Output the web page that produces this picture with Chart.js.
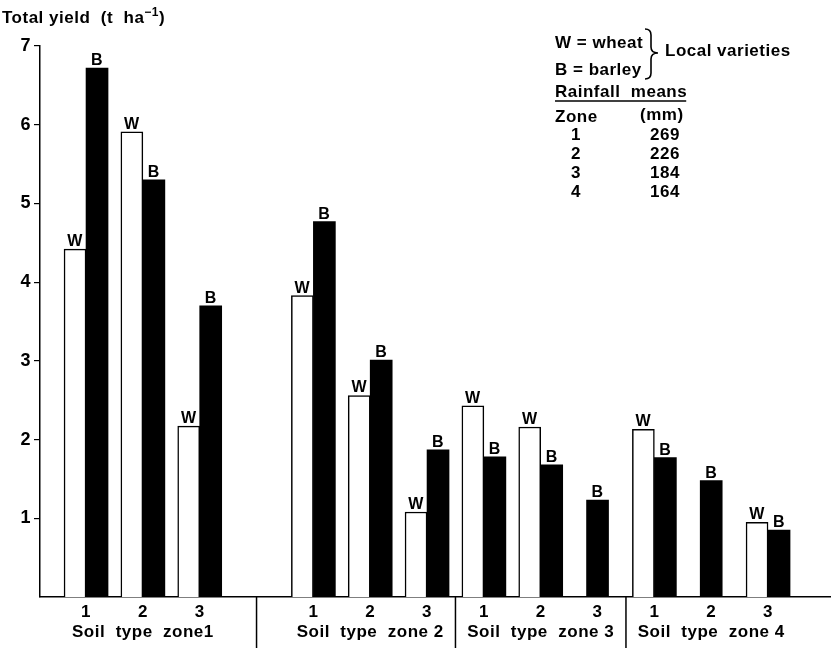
<!DOCTYPE html>
<html>
<head>
<meta charset="utf-8">
<title>Total yield of local wheat and barley</title>
<script src="https://cdn.jsdelivr.net/npm/chart.js@4.4.0/dist/chart.umd.min.js"></script>
<style>
  html, body { margin: 0; padding: 0; background: #ffffff; }
  #wrap { position: relative; width: 831px; height: 648px; }
</style>
</head>
<body>
<div id="wrap"><canvas id="yieldChart" width="831" height="648"></canvas></div>
<script>
// Rainfall zone of each bar pair, grouped by soil type zone
const rainLabels = ['1', '2', '3', '1', '2', '3', '1', '2', '3', '1', '2', '3'];
const soilZoneLabels = ['Soil  type  zone1', 'Soil  type  zone 2', 'Soil  type  zone 3', 'Soil  type  zone 4'];

// Total yield (t/ha); null = no bar drawn
const wheatYield  = [4.42, 5.91, 2.17, 3.83, 2.56, 1.08, 2.43, 2.16, null, 2.13, null, 0.95];
const barleyYield = [6.72, 5.30, 3.70, 4.77, 3.01, 1.87, 1.78, 1.68, 1.23, 1.77, 1.48, 0.85];

const yTicks = [1, 2, 3, 4, 5, 6, 7];

// Rainfall means table
const rainfallZones = ['1', '2', '3', '4'];
const rainfallMeans = ['269', '226', '184', '164'];

const FONT = '"Liberation Sans", Arial, Helvetica, sans-serif';
Chart.defaults.font.family = FONT;
Chart.defaults.color = '#000';

// an empty slot is left between soil type zone 1 and 2
const slotOf = i => i + (i >= 3 ? 1 : 0);
const toPoints = values => values.map((v, i) => ({ x: slotOf(i), y: v }));
const tickSlots = rainLabels.map((_, i) => slotOf(i));

/**
 * Letter (W / B) above every bar
 */
const barLetters = {
    id: 'barLetters',
    afterDatasetsDraw(chart) {
        const ctx = chart.ctx;
        ctx.save();
        ctx.font = 'bold 16px ' + FONT;
        ctx.fillStyle = '#000';
        ctx.textAlign = 'center';
        ctx.textBaseline = 'alphabetic';
        chart.data.datasets.forEach((ds, d) => {
            const meta = chart.getDatasetMeta(d);
            meta.data.forEach((bar, i) => {
                if (ds.data[i].y === null || isNaN(bar.y)) return;
                ctx.fillText(ds.label, bar.x, bar.y - 3);
            });
        });
        ctx.restore();
    }
};

/**
 * Vertical dividers between soil type zones, below the x axis
 */
const zoneDividers = {
    id: 'zoneDividers',
    afterDraw(chart) {
        const ctx = chart.ctx;
        const x = chart.scales.x;
        const bottom = chart.chartArea.bottom;
        ctx.save();
        ctx.strokeStyle = '#000';
        ctx.lineWidth = 1.5;
        [2, 5, 8].forEach(i => {
            const px = x.getPixelForValue((slotOf(i) + slotOf(i + 1)) / 2);
            ctx.beginPath();
            ctx.moveTo(px, bottom);
            ctx.lineTo(px, chart.height);
            ctx.stroke();
        });
        ctx.restore();
    }
};

/**
 * Axis title, key and rainfall table
 */
const notes = {
    id: 'notes',
    beforeDraw(chart) {
        // wide letter spacing as in the printed figure
        if ('letterSpacing' in chart.ctx) chart.ctx.letterSpacing = '0.5px';
    },
    afterDraw(chart) {
        const ctx = chart.ctx;
        ctx.save();
        ctx.fillStyle = '#000';
        ctx.strokeStyle = '#000';
        ctx.textBaseline = 'middle';
        ctx.textAlign = 'left';

        // y axis title with superscript
        ctx.font = 'bold 17px ' + FONT;
        let tx = 2;
        const main = 'Total yield  (t  ha';
        ctx.fillText(main, tx, 18);
        tx += ctx.measureText(main).width;
        ctx.font = 'bold 12px ' + FONT;
        ctx.fillText('\u22121', tx, 13);
        tx += ctx.measureText('\u22121').width;
        ctx.font = 'bold 17px ' + FONT;
        ctx.fillText(')', tx, 18);

        // key
        ctx.font = 'bold 17px ' + FONT;
        ctx.fillText('W = wheat', 555, 43);
        ctx.fillText('B = barley', 555, 70);
        ctx.fillText('Local varieties', 665, 51);

        // brace
        ctx.lineWidth = 1.6;
        const bx0 = 645, bx1 = 651, tip = 658, top = 29, mid = 53, bot = 79;
        ctx.beginPath();
        ctx.moveTo(bx0, top);
        ctx.quadraticCurveTo(bx1, top, bx1, top + 6);
        ctx.lineTo(bx1, mid - 6);
        ctx.quadraticCurveTo(bx1, mid, tip, mid);
        ctx.quadraticCurveTo(bx1, mid, bx1, mid + 6);
        ctx.lineTo(bx1, bot - 6);
        ctx.quadraticCurveTo(bx1, bot, bx0, bot);
        ctx.stroke();

        // rainfall table
        ctx.fillText('Rainfall  means', 555, 92);
        const w = ctx.measureText('Rainfall  means').width;
        ctx.beginPath();
        ctx.moveTo(555, 101);
        ctx.lineTo(555 + w - 1, 101);
        ctx.stroke();
        ctx.fillText('Zone', 555, 117);
        ctx.fillText('(mm)', 640, 115);
        ctx.textAlign = 'center';
        rainfallZones.forEach((z, k) => {
            const y = 135 + k * 19;
            ctx.fillText(z, 576, y);
            ctx.fillText(rainfallMeans[k], 665, y);
        });
        ctx.restore();
    }
};

new Chart(document.getElementById('yieldChart'), {
    type: 'bar',
    data: {
        datasets: [
            {
                label: 'W',
                data: toPoints(wheatYield),
                backgroundColor: '#ffffff',
                borderColor: '#000000',
                borderWidth: 1.5,
                skipNull: true,
                barThickness: 22
            },
            {
                label: 'B',
                data: toPoints(barleyYield),
                backgroundColor: '#000000',
                borderColor: '#000000',
                borderWidth: 0,
                skipNull: true,
                barThickness: 22
            }
        ]
    },
    options: {
        responsive: false,
        animation: false,
        devicePixelRatio: 1,
        layout: { padding: { top: 46, right: 1, left: 0, bottom: 0 } },
        plugins: {
            legend: { display: false },
            tooltip: { enabled: false }
        },
        scales: {
            x: {
                type: 'linear',
                min: -0.81,
                max: 13.09,
                offset: false,
                grid: { display: false, drawTicks: false },
                border: { color: '#000', width: 1.5 },
                afterBuildTicks: scale => {
                    scale.ticks = tickSlots.map(v => ({ value: v }));
                },
                afterFit: scale => { scale.height = 51; },
                ticks: {
                    autoSkip: false,
                    maxRotation: 0,
                    padding: 5,
                    color: '#000',
                    font: { size: 17, weight: 'bold', lineHeight: 1.2 },
                    callback: value => {
                        const i = tickSlots.indexOf(value);
                        if (i < 0) return '';
                        if (i % 3 === 1) return [rainLabels[i], soilZoneLabels[Math.floor(i / 3)]];
                        return rainLabels[i];
                    }
                }
            },
            y: {
                min: 0,
                max: 7,
                grid: { drawOnChartArea: false, drawTicks: true, tickLength: 6, color: '#000', lineWidth: 1.2 },
                border: { color: '#000', width: 1.5 },
                afterBuildTicks: scale => {
                    scale.ticks = yTicks.map(v => ({ value: v }));
                },
                afterFit: scale => { scale.width = 40; },
                ticks: {
                    padding: 3,
                    color: '#000',
                    font: { size: 18, weight: 'bold' }
                }
            }
        }
    },
    plugins: [notes, barLetters, zoneDividers]
});
</script>
</body>
</html>
